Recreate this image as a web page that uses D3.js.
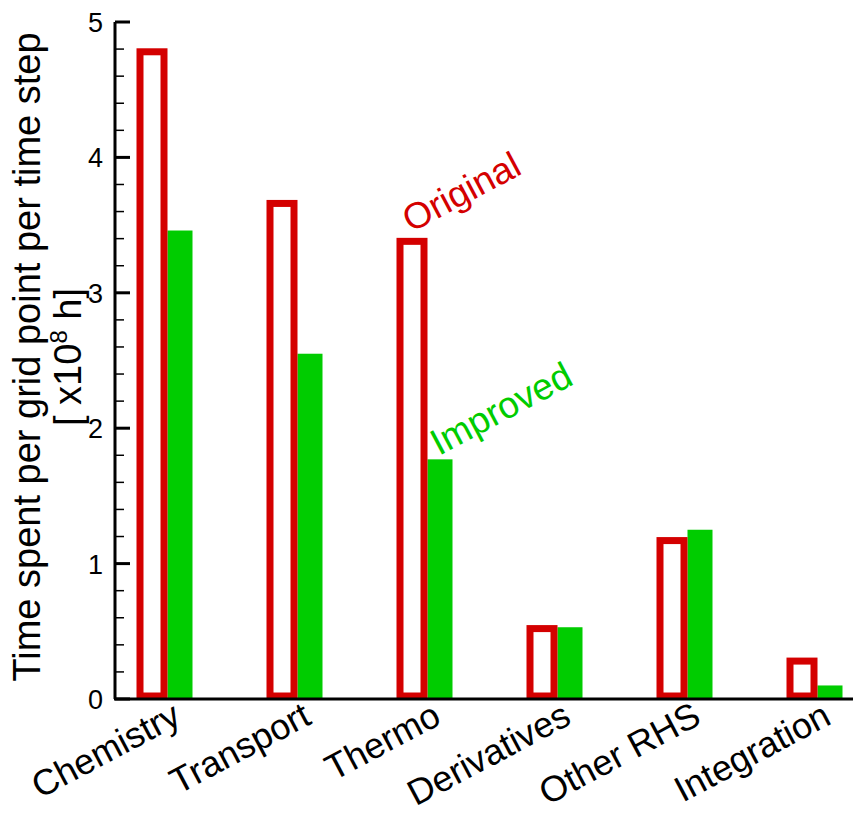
<!DOCTYPE html>
<html>
<head>
<meta charset="utf-8">
<script src="https://cdn.jsdelivr.net/npm/d3@7"></script>
<style>
  body { margin: 0; background: #fff; }
  text { font-family: "Liberation Sans", Arial, sans-serif; }
</style>
</head>
<body>
<div id="viz"></div>
<script>
const categories = ['Chemistry', 'Transport', 'Thermo', 'Derivatives', 'Other RHS', 'Integration'];
const original = [4.78, 3.66, 3.38, 0.52, 1.17, 0.28];
const improved = [3.46, 2.55, 1.77, 0.53, 1.25, 0.10];
const yTicks = [0, 1, 2, 3, 4, 5];

const red = '#d40000';
const green = '#00cc00';

const width = 853;
const height = 814;

const svg = d3.select('#viz')
      .append('svg')
      .attr('width', width)
      .attr('height', height);

const y = d3.scaleLinear()
      .domain([0, 5])
      .range([699, 22]);

const x = d3.scaleBand()
      .domain(categories)
      .range([101, 881])
      .paddingInner(0);

const xSub = d3.scaleBand()
      .domain(['original', 'improved'])
      .range([0, 56]);

const groups = svg.append('g')
      .selectAll('g')
      .data(categories)
      .join('g')
      .attr('transform', d => `translate(${x(d) + x.bandwidth() / 2 - 28} 0)`);

// improved bars (filled green)
groups.append('rect')
    .attr('x', xSub('improved') + 1.5)
    .attr('width', 25)
    .attr('y', (d, i) => y(improved[i]))
    .attr('height', (d, i) => y(0) - y(improved[i]))
    .attr('fill', green);

// original bars (red outline)
groups.append('rect')
    .attr('x', xSub('original') + 2)
    .attr('width', 24)
    .attr('y', (d, i) => y(original[i]))
    .attr('height', (d, i) => y(0) - y(original[i]) - 3)
    .attr('fill', 'white')
    .attr('stroke', red)
    .attr('stroke-width', 7);

// y axis
const yAxis = svg.append('g');
yAxis.append('line')
    .attr('x1', 115).attr('x2', 115)
    .attr('y1', y(5)).attr('y2', y(0))
    .attr('stroke', 'black')
    .attr('stroke-width', 3);

const minor = d3.range(0, 5.001, 0.2).filter(v => Math.abs(v - Math.round(v)) > 1e-6);
yAxis.selectAll('.minor')
    .data(minor)
    .join('line')
    .attr('x1', 115).attr('x2', 124)
    .attr('y1', d => y(d)).attr('y2', d => y(d))
    .attr('stroke', 'black')
    .attr('stroke-width', 1.5);

yAxis.selectAll('.major')
    .data(yTicks)
    .join('line')
    .attr('x1', 115).attr('x2', 130)
    .attr('y1', d => y(d)).attr('y2', d => y(d))
    .attr('stroke', 'black')
    .attr('stroke-width', 3);

yAxis.selectAll('text')
    .data(yTicks)
    .join('text')
    .attr('x', 103)
    .attr('y', d => y(d) + 10)
    .attr('text-anchor', 'end')
    .attr('font-size', 27)
    .text(d => d);

// x baseline
svg.append('line')
    .attr('x1', 114).attr('x2', width)
    .attr('y1', y(0)).attr('y2', y(0))
    .attr('stroke', 'black')
    .attr('stroke-width', 3);

// category labels
svg.append('g')
    .selectAll('text')
    .data(categories)
    .join('text')
    .attr('transform', d => `translate(${x(d) + x.bandwidth() / 2 + 17} 723) rotate(-28)`)
    .attr('text-anchor', 'end')
    .attr('font-size', 36)
    .text(d => d);

// y title
svg.append('text')
    .attr('transform', 'translate(40 357) rotate(-90)')
    .attr('text-anchor', 'middle')
    .attr('font-size', 38)
    .text('Time spent per grid point per time step');

const sub = svg.append('text')
    .attr('transform', 'translate(81 357) rotate(-90)')
    .attr('text-anchor', 'middle')
    .attr('font-size', 38);
sub.append('tspan').text('[ x10');
sub.append('tspan').attr('dy', -14).attr('font-size', 24).text('8');
sub.append('tspan').attr('dy', 14).text(' h]');

// annotations
svg.append('text')
    .attr('transform', 'translate(411 233) rotate(-28)')
    .attr('font-size', 37)
    .attr('fill', red)
    .text('Original');

svg.append('text')
    .attr('transform', 'translate(439 456) rotate(-28)')
    .attr('font-size', 37)
    .attr('fill', green)
    .text('Improved');
</script>
</body>
</html>
